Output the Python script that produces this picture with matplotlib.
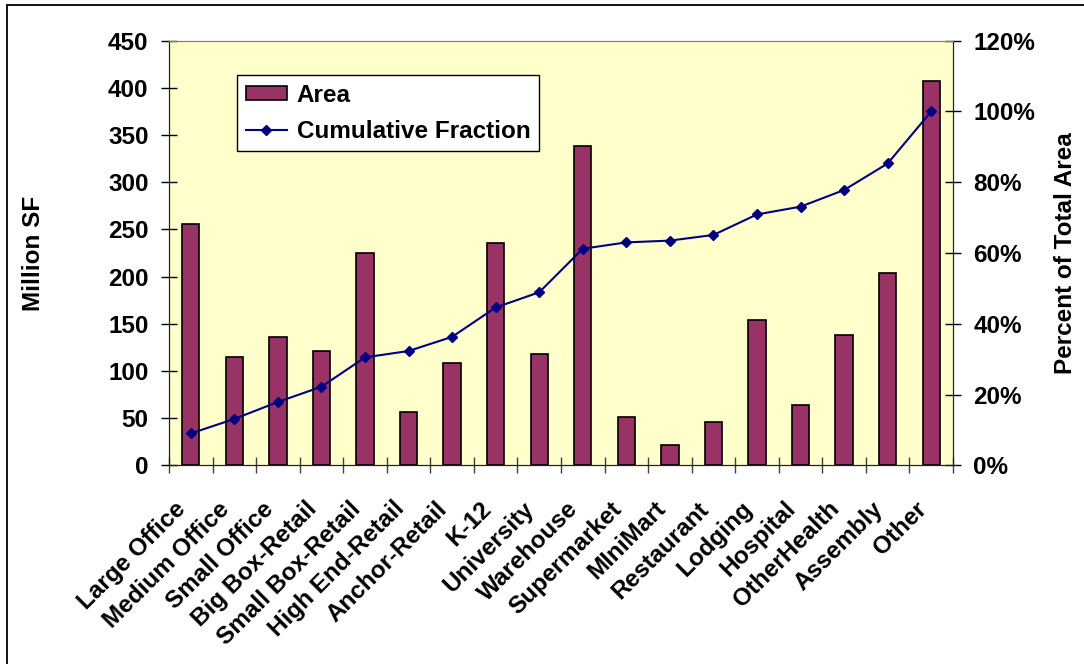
import numpy as np
import matplotlib.pyplot as plt
from matplotlib.patches import Rectangle
from matplotlib.ticker import FuncFormatter

# data
categories = ["Large Office", "Medium Office", "Small Office", "Big Box-Retail",
              "Small Box-Retail", "High End-Retail", "Anchor-Retail", "K-12",
              "University", "Warehouse", "Supermarket", "MIniMart", "Restaurant",
              "Lodging", "Hospital", "OtherHealth", "Assembly", "Other"]
area = [256, 115, 136, 121, 225, 56, 108, 236, 118, 338,
        51, 21.5, 46, 154, 64, 138, 204, 407]
cum_frac = [0.090, 0.131, 0.179, 0.222, 0.305, 0.323, 0.363, 0.446, 0.489, 0.612,
            0.630, 0.635, 0.651, 0.709, 0.731, 0.778, 0.853, 1.000]

plt.rcParams["font.family"] = "Liberation Sans"
plt.rcParams["font.weight"] = "bold"
fs = 17.5

W, H = 1084, 664
fig = plt.figure(figsize=(W / 100, H / 100), dpi=100)
fig.patches.append(Rectangle((7 / W, -0.1), 1.2, 1.1 - 5 / H, transform=fig.transFigure,
                             fill=False, edgecolor="black", linewidth=1.3))

x0, x1, ytop, ybot = 169, 953, 40.7, 465.3
ax = fig.add_axes([x0 / W, 1 - ybot / H, (x1 - x0) / W, (ybot - ytop) / H])
ax.set_facecolor("#FFFFCC")
ax2 = ax.twinx()

x = np.arange(len(categories))
bars = ax.bar(x, area, width=0.4, color="#993366", edgecolor="black", linewidth=1.2,
              label="Area", zorder=2)
line, = ax2.plot(x, cum_frac, color="#000080", linewidth=1.5, marker="D", markersize=5.5,
                 label="Cumulative Fraction")

ax.set_xlim(-0.5, len(categories) - 0.5)
ax.set_ylim(0, 450)
ax.set_yticks(np.arange(0, 451, 50))
ax2.set_ylim(0, 1.2)
ax2.set_yticks(np.arange(0, 1.21, 0.2))
ax2.yaxis.set_major_formatter(FuncFormatter(lambda v, p: f"{v * 100:.0f}%"))

ax.set_xticks(x)
ax.set_xticklabels(categories, rotation=45, ha="right", va="top", rotation_mode="default",
                   fontsize=fs)
ax.set_xticks(np.arange(-0.5, len(categories), 1.0), minor=True)
ax.tick_params(axis="x", which="major", length=0, pad=23)
ax.tick_params(axis="x", which="minor", direction="inout", length=11, width=1, color="#404040")
ax.tick_params(axis="y", direction="inout", length=11.5, width=1, labelsize=fs, pad=9)
ax2.tick_params(axis="y", direction="inout", length=11.5, width=1, labelsize=fs, pad=9)

for a in (ax, ax2):
    a.spines["top"].set_color("#808080")
    a.spines["left"].set_color("#202020")
    a.spines["right"].set_color("#202020")
    a.spines["bottom"].set_color("#202020")

ax.set_ylabel("Million SF", fontsize=fs, fontweight="bold")
ax.yaxis.set_label_coords((33 - x0) / (x1 - x0), 0.5)
ax.yaxis.label.set_va("center")
ax2.set_ylabel("Percent of Total Area", fontsize=fs, fontweight="bold")
ax2.yaxis.set_label_coords((1065 - x0) / (x1 - x0), 0.5)
ax2.yaxis.label.set_va("center")
ax2.yaxis.label.set_rotation(90)

leg = ax2.legend([bars, line], ["Area", "Cumulative Fraction"], loc="upper left",
                 bbox_to_anchor=(237 / W, 1 - 75 / H), bbox_transform=fig.transFigure,
                 fontsize=fs, frameon=True, fancybox=False, framealpha=1, edgecolor="black",
                 borderpad=0.35, handlelength=1.7, handleheight=0.55, handletextpad=0.4,
                 labelspacing=0.55, borderaxespad=0)
leg.get_frame().set_linewidth(1.0)

fig.savefig("out.png", dpi=100)
